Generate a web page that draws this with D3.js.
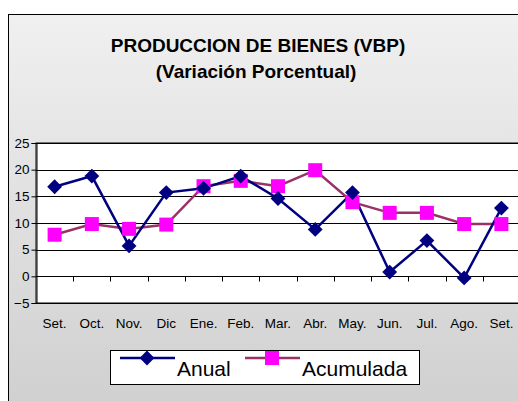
<!DOCTYPE html>
<html>
<head>
<meta charset="utf-8">
<script src="https://cdn.jsdelivr.net/npm/d3@7"></script>
<style>
  body { margin: 0; background: #fff; }
  svg text { font-family: Arial, "Liberation Sans", sans-serif; }
</style>
</head>
<body>
<div id="chart"></div>
<script>
var months = ["Set.", "Oct.", "Nov.", "Dic", "Ene.", "Feb.", "Mar.", "Abr.", "May.", "Jun.", "Jul.", "Ago.", "Set."];
var anual = [16.8, 18.8, 5.7, 15.7, 16.5, 18.8, 14.6, 8.8, 15.7, 0.8, 6.7, -0.3, 12.8];
var acumulada = [7.8, 9.8, 8.9, 9.7, 16.9, 17.9, 16.9, 19.9, 13.9, 11.9, 11.9, 9.8, 9.8];
var yTicks = [-5, 0, 5, 10, 15, 20, 25];

var width = 518, height = 401;
var margin = { top: 143, right: -2, bottom: 98, left: 36 };

var svg = d3.select("#chart").append("svg")
  .attr("width", width)
  .attr("height", height);

// background gradient
var grad = svg.append("defs").append("linearGradient")
  .attr("id", "bg").attr("x1", 0).attr("y1", 0).attr("x2", 0).attr("y2", 1);
grad.append("stop").attr("offset", "0%").attr("stop-color", "#f0f0f0");
grad.append("stop").attr("offset", "100%").attr("stop-color", "#cfcfcf");

svg.append("rect")
  .attr("x", 8.5).attr("y", 14.5)
  .attr("width", width).attr("height", height)
  .attr("fill", "url(#bg)")
  .attr("stroke", "#000").attr("stroke-width", 1);

// title
svg.append("text")
  .attr("x", 258).attr("y", 52)
  .attr("text-anchor", "middle")
  .attr("font-size", 19).attr("font-weight", "bold")
  .text("PRODUCCION DE BIENES (VBP)");
svg.append("text")
  .attr("x", 256).attr("y", 78)
  .attr("text-anchor", "middle")
  .attr("font-size", 19).attr("font-weight", "bold")
  .text("(Variación Porcentual)");

var x = d3.scaleBand()
  .domain(d3.range(months.length))
  .range([margin.left, width - margin.right]);

var y = d3.scaleLinear()
  .domain([-5, 25])
  .range([height - margin.bottom, margin.top]);

var g = svg.append("g");

// plot area
g.append("rect")
  .attr("x", margin.left).attr("y", margin.top)
  .attr("width", width - margin.right - margin.left)
  .attr("height", y(-5) - y(25))
  .attr("fill", "#fff")
  .attr("stroke", "#000");

// gridlines
g.selectAll(".grid")
  .data(yTicks)
  .enter().append("line")
  .attr("x1", margin.left).attr("x2", width - margin.right)
  .attr("y1", function(d) { return Math.round(y(d)) + 0.5; })
  .attr("y2", function(d) { return Math.round(y(d)) + 0.5; })
  .attr("stroke", "#000").attr("stroke-width", 1);

// y axis
var yAxis = d3.axisLeft(y).tickValues(yTicks).tickSize(5).tickPadding(2);
var ya = svg.append("g")
  .attr("transform", "translate(" + (margin.left + 0.5) + ",0)")
  .call(yAxis);
ya.selectAll("text").attr("font-size", 13.5).attr("fill", "#000");
ya.selectAll("line").attr("stroke", "#000");
ya.select(".domain").attr("stroke", "#000");

// category axis at y = 0, ticks between categories
var xa = svg.append("g")
  .attr("transform", "translate(0," + (Math.round(y(0)) + 0.5) + ")");
xa.selectAll("line")
  .data(d3.range(1, months.length))
  .enter().append("line")
  .attr("x1", function(i) { return Math.round(x(i)) + 0.5; })
  .attr("x2", function(i) { return Math.round(x(i)) + 0.5; })
  .attr("y1", 0).attr("y2", 5)
  .attr("stroke", "#000");

svg.selectAll(".xlab")
  .data(months)
  .enter().append("text")
  .attr("x", function(d, i) { return x(i) + x.bandwidth() / 2; })
  .attr("y", 328)
  .attr("text-anchor", "middle")
  .attr("font-size", 13.5)
  .text(function(d) { return d; });

var line = d3.line()
  .x(function(d, i) { return x(i) + x.bandwidth() / 2; })
  .y(function(d) { return y(d); });

// Acumulada
g.append("path")
  .datum(acumulada)
  .attr("d", line)
  .attr("fill", "none")
  .attr("stroke", "#993366").attr("stroke-width", 2.5);

// Anual
g.append("path")
  .datum(anual)
  .attr("d", line)
  .attr("fill", "none")
  .attr("stroke", "#000080").attr("stroke-width", 2.5);

g.selectAll(".sq")
  .data(acumulada)
  .enter().append("rect")
  .attr("x", function(d, i) { return x(i) + x.bandwidth() / 2 - 7; })
  .attr("y", function(d) { return y(d) - 7; })
  .attr("width", 14).attr("height", 14)
  .attr("fill", "#ff00ff");

var diamond = d3.symbol().type(d3.symbolSquare).size(110);
g.selectAll(".dm")
  .data(anual)
  .enter().append("path")
  .attr("d", diamond)
  .attr("transform", function(d, i) {
    return "translate(" + (x(i) + x.bandwidth() / 2) + "," + y(d) + ") rotate(45)";
  })
  .attr("fill", "#000080");

// legend
var lg = svg.append("g");
lg.append("rect")
  .attr("x", 110.5).attr("y", 350.5)
  .attr("width", 309).attr("height", 34)
  .attr("fill", "#fff").attr("stroke", "#000");

lg.append("line").attr("x1", 120).attr("x2", 175).attr("y1", 358).attr("y2", 358)
  .attr("stroke", "#000080").attr("stroke-width", 2.5);
lg.append("path").attr("d", diamond)
  .attr("transform", "translate(147,358) rotate(45)")
  .attr("fill", "#000080");
lg.append("text").attr("x", 177).attr("y", 376)
  .attr("font-size", 21).text("Anual");

lg.append("line").attr("x1", 245).attr("x2", 300).attr("y1", 358).attr("y2", 358)
  .attr("stroke", "#993366").attr("stroke-width", 2.5);
lg.append("rect").attr("x", 265).attr("y", 351).attr("width", 14).attr("height", 14)
  .attr("fill", "#ff00ff");
lg.append("text").attr("x", 302).attr("y", 376)
  .attr("font-size", 21).text("Acumulada");
</script>
</body>
</html>
